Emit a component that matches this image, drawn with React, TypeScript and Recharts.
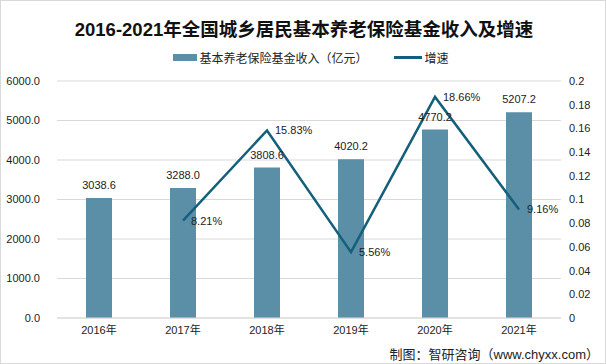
import React from "react";
import {
  ComposedChart,
  Bar,
  Line,
  XAxis,
  YAxis,
  CartesianGrid,
  LabelList,
} from "recharts";

const years = ["2016年", "2017年", "2018年", "2019年", "2020年", "2021年"];
const income = [3038.6, 3288.0, 3808.6, 4020.2, 4770.2, 5207.2];
const growth: (number | null)[] = [null, 0.0821, 0.1583, 0.0556, 0.1866, 0.0916];
const leftTicks = [0, 1000, 2000, 3000, 4000, 5000, 6000];
const rightTicks = [0, 0.02, 0.04, 0.06, 0.08, 0.1, 0.12, 0.14, 0.16, 0.18, 0.2];

const data = years.map((y, i) => ({ year: y, income: income[i], growth: growth[i] }));

const FONT = "'Liberation Sans', 'Noto Sans CJK SC', sans-serif";
const BAR = "#5b8fa7";
const LINE = "#14607a";

const GrowthLabel = (props: any) => {
  const { x, y, value } = props;
  if (value == null) return null;
  return (
    <text x={x + 8} y={y + 4} fontSize={11} fontFamily={FONT} fill="#222">
      {(value * 100).toFixed(2)}%
    </text>
  );
};

export default function App() {
  return (
    <div
      style={{
        position: "fixed",
        left: 0,
        top: 0,
        width: 606,
        height: 364,
        background: "#fff",
        boxSizing: "border-box",
        border: "1px solid #d9d9d9",
        overflow: "hidden",
      }}
    >
      <div
        style={{
          position: "absolute",
          top: 14,
          left: 0,
          width: 606,
          textAlign: "center",
          fontFamily: FONT,
          fontWeight: "bold",
          fontSize: 18.5,
          color: "#111",
        }}
      >
        2016-2021年全国城乡居民基本养老保险基金收入及增速
      </div>
      <div
        style={{
          position: "absolute",
          top: 48,
          left: 0,
          width: 606,
          boxSizing: "border-box",
          paddingLeft: 14,
          display: "flex",
          justifyContent: "center",
          alignItems: "center",
          fontFamily: FONT,
          fontSize: 12,
          color: "#222",
        }}
      >
        <span style={{ display: "inline-block", width: 24, height: 7, background: BAR, marginRight: 2 }} />
        <span>基本养老保险基金收入（亿元）</span>
        <span style={{ display: "inline-block", width: 28, height: 3, background: LINE, marginLeft: 26, marginRight: 3 }} />
        <span>增速</span>
      </div>
      <div style={{ position: "absolute", top: -1, left: -1 }}>
        <ComposedChart
          width={606}
          height={364}
          data={data}
          margin={{ top: 81, right: 0, bottom: 26, left: 0 }}
        >
          <CartesianGrid yAxisId="left" vertical={false} stroke="#d9d9d9" />
          <XAxis
            dataKey="year"
            axisLine={{ stroke: "#d9d9d9" }}
            tickLine={false}
            height={20}
            tick={{ fontSize: 11, fontFamily: FONT, fill: "#222" }}
          />
          <YAxis
            yAxisId="left"
            domain={[0, 6000]}
            ticks={leftTicks}
            width={57}
            axisLine={false}
            tickLine={false}
            tickFormatter={(v: number) => v.toFixed(1)}
            tick={{ fontSize: 11, fontFamily: FONT, fill: "#222", dx: -9 }}
          />
          <YAxis
            yAxisId="right"
            orientation="right"
            domain={[0, 0.2]}
            ticks={rightTicks}
            width={45}
            axisLine={false}
            tickLine={false}
            interval={0}
            tickFormatter={(v: number) => String(+v.toFixed(2))}
            tick={{ fontSize: 11, fontFamily: FONT, fill: "#222", textAnchor: "start" }}
          />
          <Bar yAxisId="left" dataKey="income" fill={BAR} barSize={26} isAnimationActive={false}>
            <LabelList
              dataKey="income"
              position="top"
              offset={9}
              formatter={(v: number) => v.toFixed(1)}
              style={{ fontSize: 11, fontFamily: FONT, fill: "#222" }}
            />
          </Bar>
          <Line
            yAxisId="right"
            dataKey="growth"
            stroke={LINE}
            strokeWidth={2.5}
            dot={false}
            connectNulls={false}
            isAnimationActive={false}
          >
            <LabelList dataKey="growth" content={<GrowthLabel />} />
          </Line>
        </ComposedChart>
      </div>
      <div
        style={{
          position: "absolute",
          right: 6,
          top: 343,
          fontFamily: FONT,
          fontSize: 13,
          color: "#222",
        }}
      >
        制图：智研咨询（www.chyxx.com）
      </div>
    </div>
  );
}
